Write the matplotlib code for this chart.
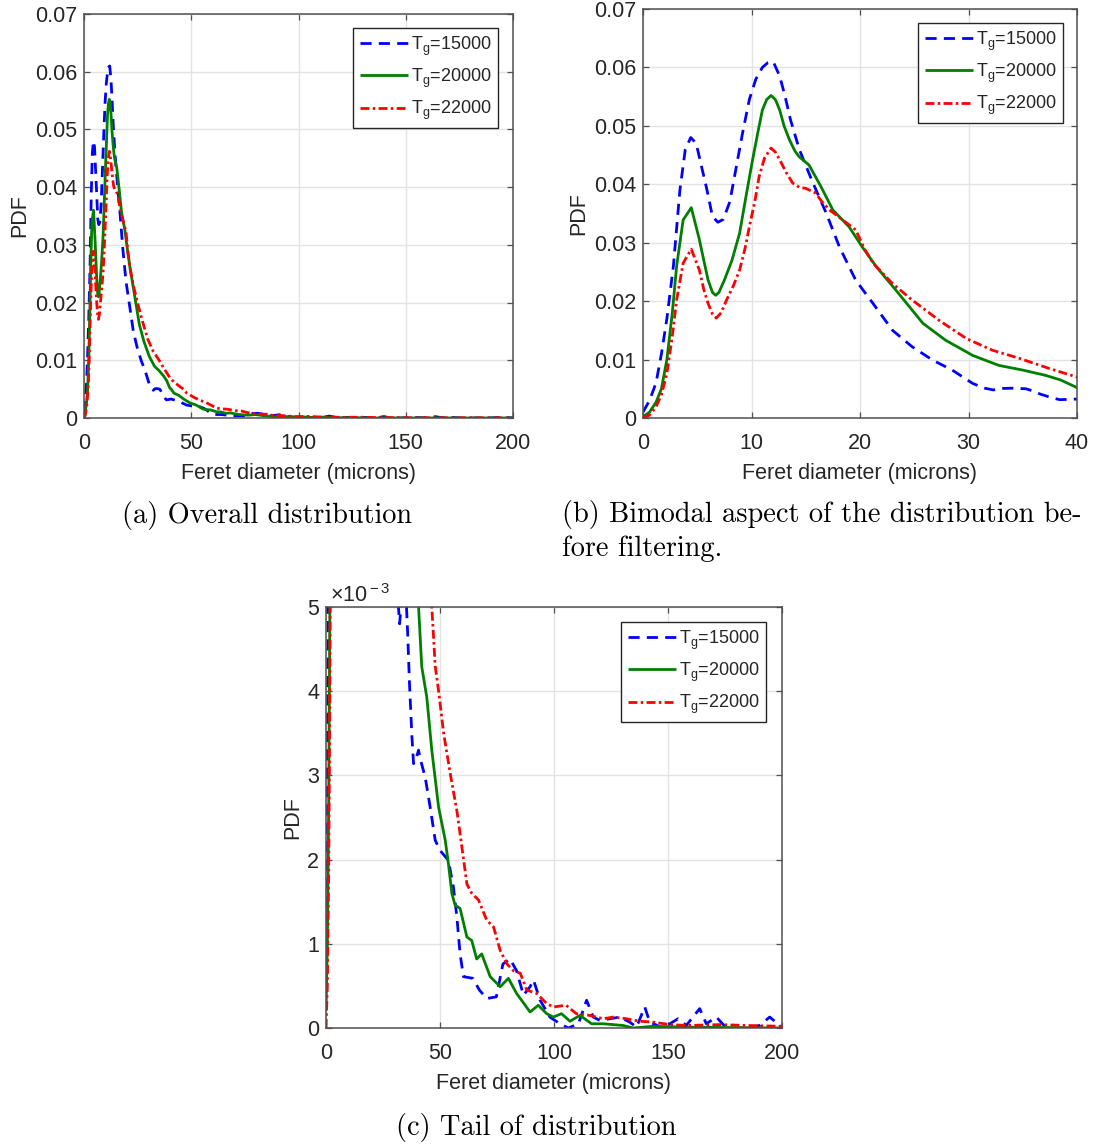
import matplotlib
matplotlib.use('Agg')
import matplotlib.pyplot as plt
from matplotlib.ticker import FuncFormatter, FixedLocator

plt.rcParams['font.family'] = ['Liberation Sans', 'DejaVu Sans']
plt.rcParams['mathtext.fontset'] = 'custom'
plt.rcParams['mathtext.rm'] = 'Liberation Sans'
plt.rcParams['mathtext.it'] = 'Liberation Sans:italic'
plt.rcParams['mathtext.bf'] = 'Liberation Sans:bold'

# ---------------- data ----------------
x_15000 = [0, 0.6, 1.2, 1.7, 2.2, 2.8, 3.4, 3.9, 4.4, 4.9, 5.4, 5.9, 6.4, 6.9, 7.4, 8.0,
           8.6, 9.2, 9.8, 10.4, 11.0, 11.5, 12.0, 12.6, 13.1, 13.6, 14.4, 15.6, 16.9, 18.1,
           19.6, 21.2, 23.0, 24.8, 26.7, 28.5, 30.4, 31.5, 32.3, 33.0, 34.0, 35.3, 35.8,
           36.6, 37.7, 38.4, 39.5, 40.6, 41.3, 43.5, 45.7, 47.9, 50.0, 53.7, 55.9, 57.4,
           58.8, 60.3, 64.4, 67.3, 70.5, 74.7, 77.6, 80.7, 83.6, 86.6, 89.5, 91.0, 93.9,
           98.2, 102.6, 106.3, 110.7, 114.3, 117.2, 120.1, 124.5, 128.9, 133.2, 136.2,
           139.8, 142.0, 147.8, 154.4, 158.0, 163.9, 166.8, 171.2, 175.6, 184.4, 190.2,
           194.6, 200]
pdf_15000 = [0.001, 0.003, 0.006, 0.011, 0.017, 0.026, 0.039, 0.046, 0.048, 0.047, 0.043,
             0.039, 0.0345, 0.0335, 0.034, 0.037, 0.043, 0.049, 0.0545, 0.058, 0.0600,
             0.0608, 0.0610, 0.0585, 0.055, 0.051, 0.046, 0.0405, 0.035, 0.0293, 0.0236,
             0.0196, 0.015, 0.0122, 0.0099, 0.0082, 0.0059, 0.0051, 0.0048, 0.00505,
             0.0051, 0.0050, 0.0047, 0.0041, 0.00345, 0.00314, 0.0032, 0.0033, 0.0032,
             0.00298, 0.00262, 0.00223, 0.00211, 0.00199, 0.00167, 0.00132, 0.00088,
             0.00061, 0.00059, 0.00045, 0.00035, 0.00037, 0.00076, 0.00082, 0.00068,
             0.00039, 0.00049, 0.00057, 0.00033, 0.00013, 0.00005, 0.0, 0.00005, 0.00033,
             0.00013, 0.00009, 0.00011, 0.00013, 0.00007, 0.00001, 0.00025, 0.00007, 0.0,
             0.00011, 0.00003, 0.00023, 0.00005, 0.00013, 0.0, 0.0, 0.00003, 0.00013,
             0.00001]

x_20000 = [0, 0.6, 1.2, 1.7, 2.2, 2.7, 3.1, 3.7, 4.45, 5.2, 5.6, 6.0, 6.4, 6.7, 7.0, 7.5,
           8.2, 8.9, 9.5, 10.1, 10.6, 11.0, 11.4, 11.8, 12.2, 12.6, 13.0, 13.5, 14.0, 14.4,
           15.3, 16.4, 17.5, 19.0, 20.2, 21.5, 23.3, 25.8, 27.9, 30.4, 32.8, 35.0, 37.1,
           38.5, 40.0, 40.6, 42.0, 44.2, 46.4, 49.4, 52.3, 53.7, 55.2, 56.6, 58.8, 61.8,
           63.9, 66.1, 68.3, 72.0, 76.4, 80.0, 83.6, 89.5, 93.1, 96.8, 99.7, 103.3, 107.0,
           111.4, 116.5, 121.6, 126.0, 130.3, 134.7, 143.5, 158.1, 200]
pdf_20000 = [0.0002, 0.001, 0.0027, 0.005, 0.010, 0.018, 0.026, 0.0339, 0.036, 0.0305,
             0.027, 0.0236, 0.0215, 0.021, 0.0215, 0.0236, 0.027, 0.0316, 0.038, 0.0442,
             0.049, 0.0527, 0.0545, 0.0552, 0.0545, 0.0527, 0.050, 0.0476, 0.0457, 0.0447,
             0.0433, 0.0396, 0.0356, 0.0327, 0.0293, 0.0259, 0.0219, 0.0162, 0.0133,
             0.0107, 0.009, 0.0082, 0.0073, 0.0065, 0.0052, 0.0050, 0.00429, 0.00393,
             0.0033, 0.00262, 0.00223, 0.00195, 0.0016, 0.00146, 0.00142, 0.00108,
             0.00104, 0.00082, 0.00088, 0.00061, 0.00049, 0.00059, 0.00041, 0.00019,
             0.00027, 0.00017, 0.00013, 0.00017, 0.00008, 0.00015, 0.00005, 0.00005,
             0.00004, 0.00003, 0.0, 0.00002, 0.00001, 0.0]

x_22000 = [0, 0.6, 1.2, 1.7, 2.2, 2.7, 3.1, 3.7, 4.45, 5.2, 5.6, 6.0, 6.4, 6.75, 7.2, 7.7,
           8.3, 8.9, 9.4, 9.8, 10.3, 10.7, 11.2, 11.8, 12.2, 12.6, 13.2, 13.8, 14.4, 15.0,
           15.9, 16.5, 17.2, 18.4, 19.6, 20.4, 21.2, 23.0, 24.8, 27.3, 29.8, 32.2, 34.7,
           37.4, 40.0, 42.0, 44.5, 46.4, 47.9, 49.4, 51.6, 54.5, 57.4, 59.6, 61.8, 63.9,
           66.9, 70.5, 73.5, 76.4, 79.4, 82.2, 85.2, 88.1, 92.4, 96.8, 99.7, 105.3, 109.8,
           115.6, 121.6, 126.0, 131.8, 137.6, 143.5, 150.8, 158.1, 172.8, 184.4, 200]
pdf_22000 = [0.0, 0.0005, 0.0019, 0.004, 0.0076, 0.014, 0.0202, 0.0265, 0.0289, 0.0253,
             0.022, 0.0196, 0.0178, 0.0171, 0.018, 0.0202, 0.0225, 0.0253, 0.029, 0.0327,
             0.037, 0.0413, 0.0445, 0.0462, 0.0455, 0.0442, 0.042, 0.0402, 0.0395, 0.0393,
             0.0385, 0.037, 0.0356, 0.0339, 0.0322, 0.029, 0.0265, 0.0230, 0.0202, 0.0167,
             0.0136, 0.0116, 0.0102, 0.0085, 0.0070, 0.0062, 0.0055, 0.0050, 0.0043,
             0.0040, 0.0035, 0.00302, 0.00258, 0.00215, 0.00171, 0.0016, 0.00152, 0.00128,
             0.0012, 0.00092, 0.00076, 0.00068, 0.00065, 0.00045, 0.00041, 0.00029,
             0.00025, 0.00027, 0.00017, 0.00015, 0.00011, 0.00013, 0.00011, 0.00008,
             0.00007, 0.00004, 0.00003, 0.00004, 0.00003, 0.00002]

series_labels = [r'T$_{\rm g}$=15000', r'T$_{\rm g}$=20000', r'T$_{\rm g}$=22000']
xticks_full = [0, 50, 100, 150, 200]
xticks_zoom = [0, 10, 20, 30, 40]
yticks_main = [0, 0.01, 0.02, 0.03, 0.04, 0.05, 0.06, 0.07]
yticks_tail = [0, 0.001, 0.002, 0.003, 0.004, 0.005]
captions = ['(a) Overall distribution',
            '(b) Bimodal aspect of the distribution be-\nfore filtering.',
            '(c) Tail of distribution']

series = [(x_15000, pdf_15000, '#0000ff', (4.0, 2.6)),
          (x_20000, pdf_20000, '#007f00', None),
          (x_22000, pdf_22000, '#ff0000', (3.2, 1.2, 0.9, 1.2))]

# ---------------- layout ----------------
W, H = 1094, 1144
fig = plt.figure(figsize=(W / 100, H / 100), dpi=100)

def rect(l, t, r, b):
    return [l / W, 1 - b / H, (r - l) / W, (b - t) / H]

AX_COL = '#505050'
TXT_COL = '#262626'
FS = 15.5
LEG_FS = 13

def style(ax, xticks, yticks, xlim, ylim, yfmt, legend_anchor):
    for xs, ys, c, d in series:
        if d is None:
            ax.plot(xs, ys, color=c, lw=2.0, solid_capstyle='butt')
        else:
            ax.plot(xs, ys, color=c, lw=2.0, dashes=d)
    ax.set_xlim(*xlim)
    ax.set_ylim(*ylim)
    ax.xaxis.set_major_locator(FixedLocator(xticks))
    ax.yaxis.set_major_locator(FixedLocator(yticks))
    ax.yaxis.set_major_formatter(FuncFormatter(yfmt))
    ax.xaxis.set_major_formatter(FuncFormatter(lambda v, p: '%g' % v))
    ax.grid(True, color='#e3e3e3', lw=1.0)
    ax.set_axisbelow(True)
    for s in ax.spines.values():
        s.set_color(AX_COL)
        s.set_linewidth(1.1)
    ax.tick_params(direction='in', top=True, right=True, length=4, width=0.9,
                   color=AX_COL, labelcolor=TXT_COL, labelsize=FS)
    ax.tick_params(axis='x', pad=11)
    ax.tick_params(axis='y', pad=5)
    ax.set_xlabel('Feret diameter (microns)', fontsize=FS, color=TXT_COL, labelpad=6)
    ax.set_ylabel('PDF', fontsize=FS, color=TXT_COL, labelpad=3)
    leg = ax.legend(series_labels, loc='upper right', bbox_to_anchor=legend_anchor,
                    fontsize=LEG_FS, handlelength=2.7, handletextpad=0.15,
                    labelspacing=0.5, borderpad=0.35, borderaxespad=0.0,
                    fancybox=False, framealpha=1.0, edgecolor='#262626')
    leg.get_frame().set_linewidth(1.0)
    for t in leg.get_texts():
        t.set_color(TXT_COL)
    return ax

fmt_main = lambda v, p: '0' if v == 0 else '%.2f' % v
fmt_tail = lambda v, p: '%d' % round(v * 1000)

ax_a = fig.add_axes(rect(84, 14, 513, 418))
style(ax_a, xticks_full, yticks_main, (0, 200), (0, 0.07), fmt_main, (1 - 15 / 429, 1 - 14 / 404))

ax_b = fig.add_axes(rect(643, 9, 1077, 418))
style(ax_b, xticks_zoom, yticks_main, (0, 40), (0, 0.07), fmt_main, (1 - 14 / 434, 1 - 14 / 409))

ax_c = fig.add_axes(rect(326, 607, 782, 1028))
style(ax_c, xticks_full, yticks_tail, (0, 200), (0, 0.005), fmt_tail, (1 - 16 / 456, 1 - 15 / 421))
ax_c.text(0.008, 1.0, r'$\times$10$^{\rm -3}$', transform=ax_c.transAxes, ha='left', va='bottom',
          fontsize=FS, color=TXT_COL)

# ---------------- captions ----------------
CAP_FS = 20.4
fig.text(267 / W, 1 - 515 / H, captions[0], family='cmr10', fontsize=CAP_FS,
         ha='center', va='center', color='black')
fig.text(562 / W, 1 - 500 / H, captions[1], family='cmr10', fontsize=CAP_FS,
         ha='left', va='top', color='black', linespacing=1.3)
fig.text(536 / W, 1 - 1128 / H, captions[2], family='cmr10', fontsize=CAP_FS,
         ha='center', va='center', color='black')

fig.savefig('out.png', dpi=100)
